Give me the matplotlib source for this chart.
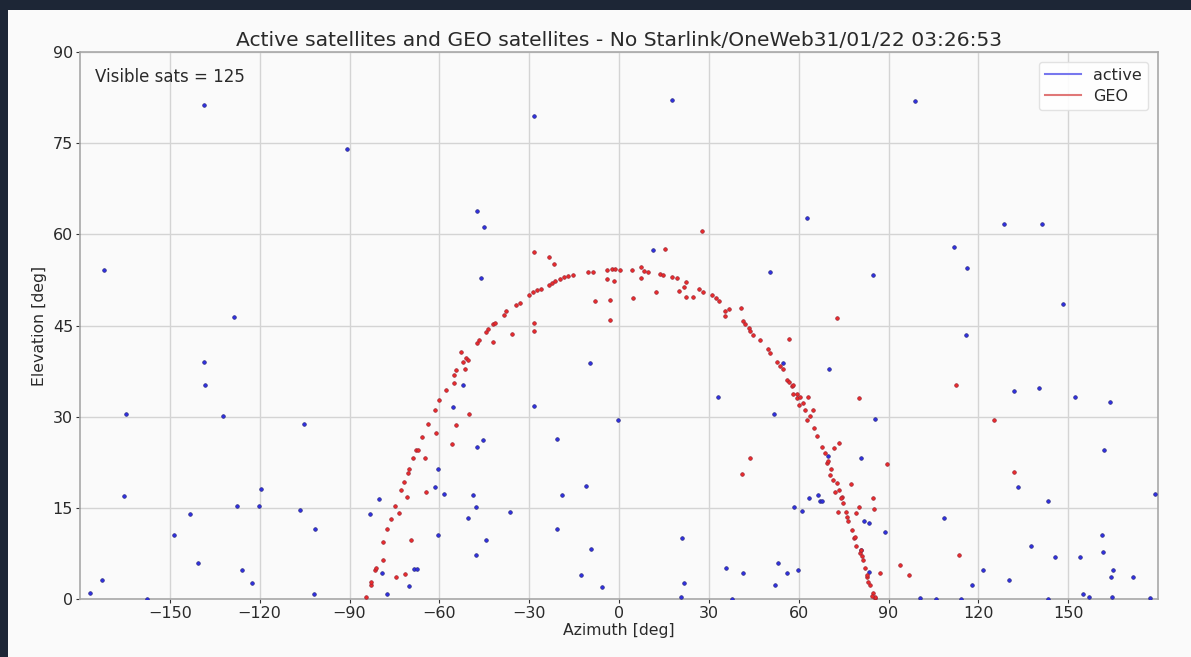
import numpy as np
import matplotlib
matplotlib.use("Agg")
import matplotlib.pyplot as plt
from matplotlib.lines import Line2D
from matplotlib.patches import Rectangle

# active satellites (azimuth, elevation) in deg
active_az = [-138.5, -90.9, -172.1, -128.5, -138.6, -138.4, -164.8, -132.4, -105.2,
             -165.2, -119.7, -143.4, -127.5, -120.3, -106.4, -148.7, -101.6, -140.5,
             -125.9, -122.6, -172.6, -176.5, -157.5, -101.8, -80.2, -83.3, -79.0, -77.6,
             -70.1, -68.4, -67.6, -60.3, -61.5, -60.4, -55.4, -52.1, -9.6, -28.5, -0.2,
             33.1, 51.9, 54.9, -20.7, -45.5, -47.3, -58.3, -48.9, -47.7, -50.3, -36.5,
             -11.1, -19.1, -20.6, -44.4, -47.7, -9.5, -12.7, -5.6, 21.1, 21.6, 20.8,
             35.8, 41.3, 37.6, 53.0, 52.2, 56.0, 58.5, 59.9, -28.5, 17.7, -47.3, -45.1,
             -46.2, 50.4, 11.2, 98.9, 62.9, 128.7, 141.4, 112.0, 116.1, 84.8, 148.2,
             115.9, 70.0, 131.8, 140.3, 152.3, 163.9, 85.5, 162.0, 69.9, 80.8, 133.3,
             143.2, 179.0, 63.6, 66.4, 67.1, 67.9, 61.0, 108.7, 81.8, 83.5, 88.7, 161.4,
             161.6, 137.7, 145.7, 154.0, 121.5, 130.3, 117.9, 164.9, 164.2, 171.7, 155.1,
             157.1, 164.6, 177.4, 100.5, 105.7, 114.1, 143.4, 83.6, 80.9]
active_el = [81.3, 74.0, 54.1, 46.4, 39.0, 35.3, 30.5, 30.2, 28.9,
             17.0, 18.1, 14.1, 15.3, 15.3, 14.7, 10.5, 11.6, 5.9,
             4.8, 2.6, 3.1, 1.0, 0.1, 0.8, 16.5, 14.1, 4.3, 0.8,
             2.2, 5.0, 5.0, 21.5, 18.5, 10.5, 31.6, 35.2, 38.9, 31.8, 29.5,
             33.2, 30.4, 38.9, 26.4, 26.2, 25.1, 17.3, 17.2, 15.2, 13.3, 14.3,
             18.6, 17.2, 11.5, 9.8, 7.3, 8.2, 4.0, 2.1, 10.0, 2.7, 0.4,
             5.1, 4.4, 0.1, 5.9, 2.4, 4.3, 15.2, 4.8, 79.5, 82.1, 63.9, 61.2,
             52.8, 53.9, 57.4, 81.9, 62.7, 61.7, 61.7, 58.0, 54.5, 53.4, 48.6,
             43.5, 37.8, 34.3, 34.8, 33.3, 32.5, 29.6, 24.5, 23.6, 23.3, 18.5,
             16.2, 17.3, 16.7, 17.2, 16.1, 16.1, 14.6, 13.3, 12.8, 12.5, 11.1, 10.5,
             7.7, 8.8, 6.9, 7.0, 4.9, 3.2, 2.4, 4.9, 3.6, 3.7, 0.8,
             0.4, 0.3, 0.2, 0.2, 0.1, 0.1, 0.1, 4.5, 8.1]

# GEO satellites (azimuth, elevation) in deg
geo_az = [-84.5, -82.9, -82.7, -81.6, -81.3, -78.9, -78.8, -77.4, -76.0, -74.7, -73.4,
          -72.9, -70.9, -71.8, -70.6, -70.1, -68.7, -67.8, -67.2, -64.7, -65.8, -63.8,
          -61.1, -61.5, -60.1, -64.4, -69.6, -74.6, -71.5,
          -57.7, -55.1, -55.1, -54.3, -52.0, -51.1, -50.3, -51.4, -52.9, -50.0, -54.5,
          -55.7, -47.5, -46.8, -44.4, -43.8, -42.0, -41.4, -42.2, -35.8, -28.3, -28.4,
          -3.0, 56.9, 43.9, 41.1,
          15.4, 27.8, -28.4, -23.3, -21.7,
          -38.4, -37.7, -34.4, -33.1, -30.0, -28.6, -27.5, -26.1,
          -23.3, -22.5, -21.4, -19.7, -18.4, -16.9, -15.5,
          -10.3, -8.6, -4.1, -2.4, -1.3, 0.3, 4.3, 7.2, 8.4, 9.8,
          13.7, 14.8, 17.8, 19.3, 22.4, 21.8, 20.1, 26.8, 28.2,
          31.0, 32.4, 33.5, 35.4, 36.8, 35.4, 40.7, 41.3, 43.5, 12.3,
          -8.0, -3.0, 4.6, -4.1, -1.6, 7.2, 22.4, 24.6,
          42.1, 43.8, 44.9, 47.1, 49.9, 50.4, 52.7, 53.8, 54.9, 56.0, 56.9, 57.7, 58.2,
          59.4, 60.2, 72.9,
          112.5, 80.1, 63.0, 125.2, 73.6, 71.7, 89.4, 131.9, 77.5, 84.7, 85.2, 80.2,
          79.1, 73.3, 113.6, 87.2, 93.9, 96.8,
          58.0, 59.3, 60.5, 61.3, 62.1, 62.7, 63.8, 64.7, 65.1, 66.2, 67.7, 68.8, 69.6,
          70.7, 71.6, 72.7, 73.6, 74.4, 74.9, 75.8, 76.6, 77.7, 78.5, 79.1, 80.5, 81.4,
          82.2, 82.9, 83.8, 84.7, 85.5,
          69.9, 74.1, 78.8, 80.7, 82.7, 83.3, 85.5, 84.4, 70.3, 72.1, 76.2, 81.0]
geo_el = [0.3, 2.4, 2.9, 4.8, 5.1, 6.4, 9.4, 11.5, 13.2, 15.4, 14.2,
          18.0, 16.8, 19.3, 20.7, 21.5, 23.2, 24.5, 24.5, 23.2, 26.7, 28.9,
          27.3, 31.2, 32.8, 17.7, 9.7, 3.6, 4.2,
          34.5, 35.6, 36.9, 37.7, 39.1, 39.7, 39.3, 37.9, 40.7, 30.5, 28.7,
          25.6, 42.1, 42.6, 43.9, 44.4, 45.2, 45.5, 42.3, 43.7, 45.4, 44.1,
          46.0, 42.8, 23.2, 20.6,
          57.6, 60.5, 57.1, 56.3, 55.1,
          46.8, 47.4, 48.4, 48.8, 50.1, 50.6, 50.8, 51.0,
          51.7, 52.0, 52.3, 52.6, 53.0, 53.2, 53.3,
          53.8, 53.8, 54.1, 54.3, 54.3, 54.1, 54.1, 54.7, 54.0, 53.8,
          53.5, 53.3, 53.0, 52.9, 52.2, 51.4, 50.7, 51.1, 50.6,
          50.0, 49.6, 49.0, 47.4, 47.7, 46.6, 47.9, 45.8, 44.6, 50.6,
          49.0, 49.2, 49.6, 52.6, 52.3, 52.9, 49.7, 49.7,
          45.2, 44.1, 43.5, 42.7, 41.1, 40.5, 39.0, 38.3, 37.8, 36.1, 35.8, 35.0, 33.7,
          33.1, 32.0, 46.2,
          35.2, 33.1, 33.2, 29.5, 25.7, 24.8, 22.2, 21.0, 18.9, 16.6, 14.9, 15.1,
          14.2, 14.3, 7.3, 4.4, 5.7, 4.0,
          35.3, 33.7, 33.3, 32.3, 31.2, 29.5, 30.1, 31.2, 28.2, 26.8, 25.1, 24.1, 22.4,
          21.4, 19.7, 19.1, 18.0, 16.9, 15.9, 14.3, 12.8, 11.4, 10.0, 8.7, 7.6, 6.5,
          5.1, 3.7, 2.4, 1.0, 0.2,
          22.7, 16.6, 10.3, 8.1, 4.0, 2.9, 0.4, 0.6, 20.4, 17.6, 13.6, 7.1]

visible_sats = 125
title = "Active satellites and GEO satellites - No Starlink/OneWeb31/01/22 03:26:53"

fig = plt.figure(figsize=(11.91, 6.57), dpi=100)
fig.patch.set_facecolor('#fafafa')
# dark frame of the screenshot (top and left strips)
fig.patches.append(Rectangle((0, 1 - 10 / 657), 1, 10 / 657, transform=fig.transFigure,
                             facecolor='#1d2636', edgecolor='none', zorder=-1))
fig.patches.append(Rectangle((0, 0), 8 / 1191, 1, transform=fig.transFigure,
                             facecolor='#1d2636', edgecolor='none', zorder=-1))

ax = fig.add_axes([80 / 1191, 1 - 599.3 / 657, 1078 / 1191, 547.3 / 657])
ax.set_facecolor('#fafafa')

ax.plot(active_az, active_el, linestyle='none', marker='o', markersize=2.6,
        markerfacecolor='#2f2fe6', markeredgecolor='#2b2b80', markeredgewidth=0.5, zorder=3)
ax.plot(geo_az, geo_el, linestyle='none', marker='o', markersize=2.6,
        markerfacecolor='#ee2a2a', markeredgecolor='#9a2535', markeredgewidth=0.5, zorder=4)

ax.set_xlim(-180, 180)
ax.set_ylim(0, 90)
ax.set_xticks(np.arange(-150, 151, 30))
ax.set_yticks(np.arange(0, 91, 15))
ax.grid(True, color='#d4d4d4', linewidth=1.0)
ax.set_axisbelow(True)
for s in ax.spines.values():
    s.set_color('#a8a8a8')
    s.set_linewidth(1.2)
ax.tick_params(colors='#333333', labelsize=11.5, length=3, labelcolor='#2a2a2a', pad=2)

ax.set_xlabel('Azimuth [deg]', fontsize=11.3, color='#2a2a2a', labelpad=1)
ax.set_ylabel('Elevation [deg]', fontsize=11.3, color='#2a2a2a', labelpad=4)
ax.set_title(title, fontsize=14.6, color='#2a2a2a', pad=4)

ax.text(0.014, 0.955, f'Visible sats = {visible_sats}', transform=ax.transAxes,
        fontsize=12, color='#2a2a2a', va='center', ha='left')

handles = [Line2D([0], [0], color='#7777ee', linewidth=1.5),
           Line2D([0], [0], color='#e07777', linewidth=1.5)]
leg = ax.legend(handles, ['active', 'GEO'], loc='upper right', fontsize=11.5,
                framealpha=0.9, edgecolor='#e0e0e0', handlelength=2.2,
                borderaxespad=0.6, labelspacing=0.35)
for t in leg.get_texts():
    t.set_color('#2a2a2a')

fig.savefig('out.png', dpi=100, facecolor=fig.get_facecolor())
